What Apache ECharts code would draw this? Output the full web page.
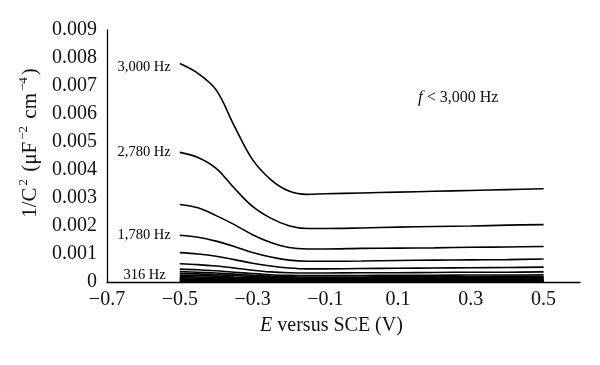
<!DOCTYPE html>
<html><head><meta charset="utf-8">
<script src="https://cdn.jsdelivr.net/npm/echarts@6/dist/echarts.min.js"></script>
<style>html,body{margin:0;padding:0;background:#fff}#c{width:600px;height:365px}</style>
</head><body><div id="c"></div>
<script>
const potentials = [-0.5,-0.45,-0.4,-0.35,-0.3,-0.25,-0.2,-0.15,-0.1,0,0.1,0.2,0.3,0.4,0.5];
const xTickLabels = ['\u22120.7','\u22120.5','\u22120.3','\u22120.1','0.1','0.3','0.5'];
const yTickLabels = ['0','0.001','0.002','0.003','0.004','0.005','0.006','0.007','0.008','0.009'];
const curve1 = [0.0078,0.00745,0.00686,0.00557,0.00437,0.00366,0.00325,0.00313,0.00315,0.00318,0.00321,0.00324,0.00327,0.0033,0.00333];
const curve2 = [0.00463,0.00445,0.00406,0.00335,0.0027,0.00228,0.00201,0.00191,0.00191,0.00193,0.00196,0.00198,0.002,0.00203,0.00205];
const curve3 = [0.00277,0.00265,0.00237,0.00205,0.00169,0.00141,0.00123,0.00118,0.00118,0.0012,0.00121,0.00122,0.00124,0.00125,0.00127];
const curve4 = [0.00167,0.0016,0.00146,0.00127,0.00105,0.00089,0.00078,0.00074,0.00074,0.00075,0.00077,0.00078,0.00079,0.0008,0.00082];
const curve5 = [0.00105,0.001,0.00092,0.0008,0.00067,0.00057,0.0005,0.00047,0.00047,0.00048,0.00049,0.0005,0.00051,0.00052,0.00053];
const curve6 = [0.00065,0.00062,0.00057,0.0005,0.00042,0.00036,0.00033,0.00032,0.00032,0.00033,0.00033,0.00034,0.00035,0.00035,0.00036];
const curve7 = [0.00046,0.00044,0.0004,0.00035,0.0003,0.00026,0.00024,0.00023,0.00023,0.00023,0.00024,0.00024,0.00025,0.00025,0.00026];
const curve8 = [0.00037,0.00035,0.00032,0.00028,0.00024,0.00021,0.00019,0.00018,0.00018,0.00018,0.00019,0.00019,0.00019,0.0002,0.0002];
const curve9 = [0.0003,0.00029,0.00026,0.00023,0.0002,0.00017,0.00015,0.00015,0.00015,0.00015,0.00015,0.00016,0.00016,0.00016,0.00017];
const curve10 = [0.00024,0.00023,0.00021,0.00018,0.00016,0.00014,0.00012,0.00012,0.00012,0.00012,0.00012,0.00013,0.00013,0.00013,0.00013];
const curve11 = [0.00019,0.00018,0.00017,0.00015,0.00013,0.00011,0.0001,0.0001,0.0001,0.0001,0.0001,0.0001,0.0001,0.00011,0.00011];
const curve12 = [0.00015,0.00014,0.00013,0.00012,0.0001,0.00009,0.00008,0.00008,0.00008,0.00008,0.00008,0.00008,0.00008,0.00008,0.00009];
const curve13 = [0.00011,0.0001,0.0001,0.00009,0.00008,0.00007,0.00006,0.00006,0.00006,0.00006,0.00006,0.00006,0.00006,0.00006,0.00006];
const curve14 = [0.00008,0.00008,0.00007,0.00006,0.00006,0.00005,0.00004,0.00004,0.00004,0.00004,0.00004,0.00004,0.00004,0.00004,0.00004];
const curve15 = [0.00005,0.00005,0.00005,0.00004,0.00004,0.00003,0.00003,0.00003,0.00003,0.00003,0.00003,0.00003,0.00003,0.00003,0.00003];
const curve16 = [0.00003,0.00003,0.00003,0.00002,0.00002,0.00002,0.00002,0.00002,0.00002,0.00002,0.00002,0.00002,0.00002,0.00002,0.00002];
const curves = [curve1,curve2,curve3,curve4,curve5,curve6,curve7,curve8,curve9,curve10,curve11,curve12,curve13,curve14,curve15,curve16];
const labelledCurves = [0, 1, 3, 10];
const labelTexts = ['3,000 Hz', '2,780 Hz', '1,780 Hz', '316 Hz'];

const FONT = '"Liberation Serif", "DejaVu Serif", serif';
const chart = echarts.init(document.getElementById('c'), null, {renderer:'canvas'});
const series = curves.map((c) => ({
  type:'line', smooth:0.35, symbol:'none', silent:true,
  lineStyle:{color:'#000', width:1.6},
  data: c.map((v, j) => [potentials[j], v])
}));
series.push({
  type:'scatter', symbolSize:0, silent:true, z:5,
  itemStyle:{opacity:1, color:'#000'},
  data: labelledCurves.map((ci, k) => ({
    value:[potentials[0], curves[ci][0]],
    label:{show:true, position:'left', distance: k===3?14:9, formatter: labelTexts[k], opacity:1,
      color:'#000', fontFamily:FONT, fontSize:14.5, offset:[0, k===0?4:(k===3?-1:0)]}
  }))
});
chart.setOption({
  animation:false,
  backgroundColor:'#fff',
  title:{text:'{i|f} < 3,000 Hz', left:413, top:84,
    textStyle:{fontFamily:FONT, fontSize:16, color:'#111', fontWeight:'normal',
      rich:{i:{fontStyle:'italic', fontFamily:FONT, fontSize:17, color:'#111'}}}},
  grid:{left:107, right:20, top:30, bottom:83},
  xAxis:{type:'value', min:-0.7, max:0.6, interval:0.2,
    name:'{i|E} versus SCE (V)', nameLocation:'middle', nameGap:34,
    nameTextStyle:{fontFamily:FONT, fontSize:20, color:'#111', padding:[0,24,0,0],
      rich:{i:{fontStyle:'italic', fontFamily:FONT, fontSize:20, color:'#111'}}},
    axisLine:{onZero:false, lineStyle:{color:'#000', width:1.3}}, axisTick:{show:false}, splitLine:{show:false},
    axisLabel:{fontFamily:FONT, fontSize:20, color:'#111', margin:8, showMaxLabel:false,
      formatter:(v)=>{const k=Math.round((v+0.7)/0.2); return (Math.abs(v+0.7-k*0.2)<1e-6 && xTickLabels[k]) ? xTickLabels[k] : '';}}},
  yAxis:{type:'value', min:0, max:0.009, interval:0.001,
    name:'{a|1/C}{s|2}{a| (\u03bcF}{s|\u22122}{a| cm}{s|\u22124}{a|)}', nameLocation:'middle', nameGap:64,
    nameTextStyle:{fontFamily:FONT, fontSize:21, color:'#111', padding:[0,0,0,26],
      rich:{a:{fontFamily:FONT, fontSize:21, color:'#111', lineHeight:26},
            s:{fontFamily:FONT, fontSize:13, color:'#111', verticalAlign:'top', lineHeight:13, padding:[0,2,0,2]}}},
    axisLine:{show:true, onZero:false, lineStyle:{color:'#000', width:1.3}}, axisTick:{show:false}, splitLine:{show:false},
    axisLabel:{fontFamily:FONT, fontSize:20, color:'#111', margin:10,
      formatter:(v)=>{const k=Math.round(v/0.001); return yTickLabels[k] || '';}}},
  series
});
</script></body></html>
